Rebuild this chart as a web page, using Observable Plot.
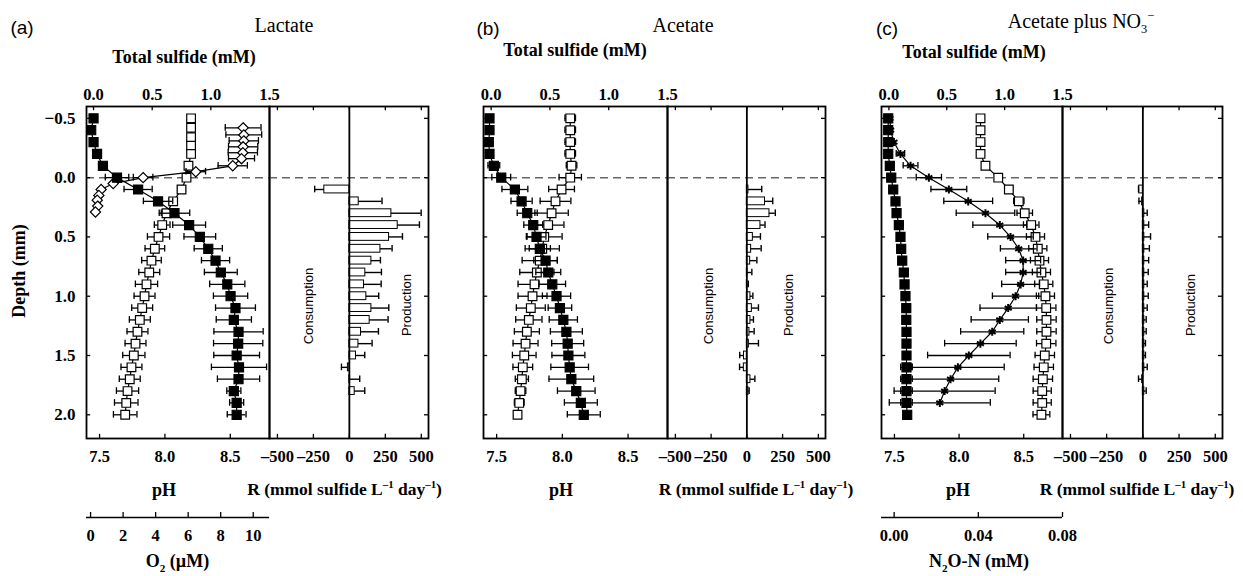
<!DOCTYPE html>
<html><head><meta charset="utf-8">
<script src="https://cdn.jsdelivr.net/npm/d3@7"></script>
<script src="https://cdn.jsdelivr.net/npm/@observablehq/plot@0.6"></script>
<style>
html,body{margin:0;padding:0;background:#fff;overflow:hidden}
#fig{position:relative;width:1243px;height:576px;}
#fig svg{position:absolute;left:0;top:0;background:transparent;overflow:visible}
.lab{position:absolute;transform:translate(-50%,-50%);white-space:nowrap;color:#000;line-height:1}
.serif{font-family:"Liberation Serif","Times New Roman",serif}
.b{font-weight:bold}
.sans{font-family:"Liberation Sans",Arial,sans-serif}
sup,sub{font-size:0.62em;line-height:0}
</style></head><body><div id="fig"></div><script>
// ---------- ticks ----------
const depthTicks = [-0.5, 0, 0.5, 1.0, 1.5, 2.0];
const phTicks = [7.5, 8.0, 8.5];
const sulfideTicks = [0, 0.5, 1.0, 1.5];
const rateTicks = [-500, -250, 0, 250, 500];
const o2Ticks = [0, 2, 4, 6, 8, 10];
const n2oTicks = [0, 0.04, 0.08];

// ---------- depths (mm) ----------
const depth26 = [-0.5,-0.4,-0.3,-0.2,-0.1,0,0.1,0.2,0.3,0.4,0.5,0.6,0.7,0.8,0.9,1.0,1.1,1.2,1.3,1.4,1.5,1.6,1.7,1.8,1.9,2.0];
const rateDepth = [0.1,0.2,0.3,0.4,0.5,0.6,0.7,0.8,0.9,1.0,1.1,1.2,1.3,1.4,1.5,1.6,1.7,1.8];

// ---------- (a) Lactate ----------
const aSulfide = [0.00,-0.02,0.00,0.03,0.08,0.20,0.38,0.55,0.69,0.815,0.906,0.978,1.04,1.085,1.14,1.168,1.21,1.196,1.236,1.233,1.22,1.24,1.236,1.196,1.22,1.22];
const aSulfideErr = [0,0,0,0,0,0.1,0.12,0.125,0.13,0.14,0.135,0.12,0.12,0.14,0.15,0.146,0.17,0.15,0.21,0.21,0.195,0.235,0.18,0.06,0.06,0.08];
const aPHDepth = [-0.5,-0.42,-0.34,-0.27,-0.2,-0.1,0,0.1,0.2,0.3,0.4,0.5,0.6,0.7,0.8,0.9,1.0,1.1,1.2,1.3,1.4,1.5,1.6,1.7,1.8,1.9,2.0];
const aPH = [8.20,8.20,8.20,8.20,8.20,8.18,8.165,8.127,8.063,8.012,7.979,7.951,7.923,7.897,7.880,7.859,7.844,7.826,7.808,7.790,7.775,7.762,7.744,7.731,7.714,7.704,7.696];
const aPHErr = [0,0,0,0,0,0,0.02,0.03,0.03,0.04,0.06,0.085,0.075,0.075,0.08,0.085,0.08,0.08,0.08,0.08,0.08,0.085,0.08,0.08,0.085,0.09,0.09];
const aO2Depth = [-0.42,-0.36,-0.31,-0.26,-0.21,-0.16,-0.10,-0.05,0,0.05,0.10,0.15,0.19,0.24,0.29];
const aO2 = [9.38,9.42,9.42,9.38,9.36,9.28,8.74,6.47,3.23,1.39,0.65,0.51,0.41,0.44,0.30];
const aO2Err = [1.1,1.1,0.9,0.9,0.9,0.8,0.9,0.6,0.6,0,0,0,0,0,0];
const aRate = [-174,65,292,336,276,216,153,111,102,118,153,141,81,63,46,-10,5,37];
const aRateErr = [67,162,207,151,93,81,63,112,119,86,121,128,121,95,61,45,67,70];

// ---------- (b) Acetate ----------
const bSulfide = [-0.014,-0.014,-0.02,-0.014,0.023,0.086,0.202,0.259,0.307,0.358,0.386,0.414,0.463,0.486,0.520,0.556,0.585,0.614,0.640,0.651,0.657,0.668,0.682,0.724,0.763,0.788];
const bSulfideErr = [0,0,0,0,0.05,0.08,0.11,0.09,0.085,0.08,0.08,0.09,0.1,0.106,0.113,0.12,0.10,0.12,0.136,0.136,0.14,0.16,0.19,0.16,0.14,0.14];
const bPH = [8.06,8.06,8.06,8.06,8.07,8.06,7.994,7.948,7.918,7.892,7.862,7.847,7.828,7.806,7.788,7.773,7.760,7.745,7.730,7.720,7.710,7.699,7.692,7.682,7.672,7.659];
const bPHErr = [0.04,0.04,0.04,0.04,0.04,0.085,0.098,0.117,0.127,0.12,0.136,0.13,0.134,0.13,0.125,0.11,0.11,0.1,0.095,0.095,0.09,0.075,0.05,0.04,0.037,0.02];
const bRate = [11,127,158,95,42,30,23,3,2,25,35,25,18,14,-20,-21,25,11];
const bRateErr = [93,54,41,32,53,70,47,32,8,17,46,21,33,67,30,30,31,5];

// ---------- (c) Acetate plus NO3- ----------
const cSulfide = [-0.006,-0.006,-0.006,-0.006,0.008,0.020,0.037,0.057,0.066,0.086,0.10,0.106,0.115,0.129,0.135,0.143,0.150,0.150,0.152,0.152,0.152,0.152,0.152,0.152,0.152,0.158];
const cSulfideErr = [0,0,0,0,0,0.02,0.02,0.02,0.02,0.02,0.02,0.02,0.02,0.02,0.02,0.02,0.02,0.02,0.02,0.02,0.02,0.05,0.05,0.05,0.05,0.02];
const cPH = [8.166,8.166,8.166,8.166,8.204,8.303,8.385,8.462,8.508,8.558,8.591,8.609,8.622,8.637,8.655,8.668,8.674,8.676,8.676,8.674,8.663,8.655,8.648,8.643,8.643,8.637];
const cPHErr = [0,0,0,0,0,0,0.03,0.04,0.06,0.06,0.07,0.07,0.07,0.07,0.07,0.07,0.075,0.075,0.075,0.075,0.075,0.075,0.075,0.07,0.07,0.065];
const cN2ODepth = [-0.5,-0.4,-0.3,-0.2,-0.1,0,0.1,0.2,0.3,0.4,0.5,0.6,0.7,0.8,0.9,1.0,1.1,1.2,1.3,1.4,1.5,1.6,1.7,1.8,1.9];
const cN2O = [-0.0020,-0.0017,-0.0001,0.0030,0.0078,0.0165,0.0260,0.0352,0.0434,0.0502,0.0553,0.0592,0.0613,0.0613,0.0601,0.0577,0.0542,0.0502,0.0466,0.0410,0.0355,0.0303,0.0268,0.0240,0.0217];
const cN2OErr = [0,0,0,0.002,0.0035,0.006,0.0085,0.0116,0.0139,0.0128,0.0108,0.0087,0.0083,0.0083,0.009,0.011,0.0134,0.0136,0.015,0.017,0.0196,0.022,0.0229,0.024,0.024];
const cRate = [-25,-5,10,10,10,10,10,10,10,10,10,10,10,10,10,10,-5,10];
const cRateErr = [5,22,20,30,43,35,30,27,20,27,20,13,13,8,8,20,25,13];

// ---------- layout ----------
const W = 1243, H = 576, TOP = 106, BOT = 438;
const DEPTH_DOMAIN = [-0.6, 2.2];
const PH_DOMAIN = [7.4, 8.8];
const RATE_DOMAIN = [-555, 550];
const CAP = 0.028;
const FRAME_W = 1.8;
const panels = [
  {p0: 86, p1: 269, r1: 428, sDom: [-0.06, 1.5]},
  {p0: 483, p1: 667, r1: 825, sDom: [-0.065, 1.5]},
  {p0: 881, p1: 1062, r1: 1222, sDom: [-0.064, 1.5]}
];

const rows = (d, v, e) => d.map((dd, i) => ({d: dd, v: v[i], e: e ? e[i] : 0}));
const fmt1 = d3.format(".1f");
const rateFmt = d => d < 0 ? "\u2013" + Math.abs(d) : String(d);
const TXT = {fontFamily: '"Liberation Serif","Times New Roman",serif', fontSize: 16.5, fontWeight: "bold", fill: "black"};

const fig = document.getElementById("fig");
const styleBase = {background: "transparent", overflow: "visible", fontFamily: '"Liberation Serif","Times New Roman",serif', fontSize: "16.5px", fontWeight: "bold", color: "black"};

function layer(x0, x1, domain, marks) {
  const svg = Plot.plot({
    width: W, height: H, marginLeft: x0, marginRight: W - x1, marginTop: TOP, marginBottom: H - BOT,
    x: {domain, axis: null}, y: {domain: DEPTH_DOMAIN, reverse: true, axis: null},
    style: styleBase, marks
  });
  fig.appendChild(svg);
}

function series(data, symbol, fill, r, sw = 1.2) {
  const eb = data.filter(p => p.e > 0);
  return [
    Plot.line(data, {x: "v", y: "d", stroke: "black", strokeWidth: 1.2}),
    Plot.ruleY(eb, {y: "d", x1: p => p.v - p.e, x2: p => p.v + p.e, stroke: "black", strokeWidth: 1.3}),
    Plot.ruleX(eb, {x: p => p.v - p.e, y1: p => p.d - CAP, y2: p => p.d + CAP, stroke: "black", strokeWidth: 1.3}),
    Plot.ruleX(eb, {x: p => p.v + p.e, y1: p => p.d - CAP, y2: p => p.d + CAP, stroke: "black", strokeWidth: 1.3}),
    Plot.dot(data, {x: "v", y: "d", symbol, r, fill, stroke: "black", strokeWidth: sw})
  ];
}

function rateMarks(data) {
  const end = p => p.v + (p.v < 0 ? -1 : 1) * p.e;
  return [
    Plot.ruleY([0], {stroke: "#666", strokeWidth: 1.5, strokeDasharray: "8,5"}),
    Plot.rectX(data, {x1: () => 0, x2: "v", y1: p => p.d - 0.033, y2: p => p.d + 0.033, fill: "white", stroke: "black", strokeWidth: 1}),
    Plot.ruleY(data, {y: "d", x1: "v", x2: end, stroke: "black", strokeWidth: 1.4}),
    Plot.ruleX(data, {x: end, y1: p => p.d - CAP, y2: p => p.d + CAP, stroke: "black", strokeWidth: 1.4}),
    Plot.ruleX([0], {stroke: "black", strokeWidth: FRAME_W}),
    Plot.frame({stroke: "black", strokeWidth: FRAME_W}),
    Plot.ruleX(rateTicks, {y1: () => DEPTH_DOMAIN[0], y2: () => DEPTH_DOMAIN[0] + 0.035, stroke: "black", strokeWidth: 1.3}),
    Plot.ruleX(rateTicks, {y1: () => DEPTH_DOMAIN[1], y2: () => DEPTH_DOMAIN[1] - 0.035, stroke: "black", strokeWidth: 1.3}),
    Plot.ruleY(depthTicks, {x1: () => RATE_DOMAIN[1], x2: () => RATE_DOMAIN[1] - 28, stroke: "black", strokeWidth: 1.3}),
    Plot.axisX({anchor: "bottom", ticks: rateTicks, tickSize: 0, tickPadding: 12, tickFormat: rateFmt, label: null, ...TXT})
  ];
}

function phBase(withY) {
  return [
    Plot.ruleY([0], {stroke: "#666", strokeWidth: 1.5, strokeDasharray: "8,5"}),
    Plot.frame({stroke: "black", strokeWidth: FRAME_W}),
    Plot.ruleY(depthTicks, {x1: () => PH_DOMAIN[0], x2: () => PH_DOMAIN[0] + 0.032, stroke: "black", strokeWidth: 1.3}),
    Plot.ruleX(phTicks, {y1: () => DEPTH_DOMAIN[1], y2: () => DEPTH_DOMAIN[1] - 0.035, stroke: "black", strokeWidth: 1.3}),
    Plot.axisX({anchor: "bottom", ticks: phTicks, tickSize: 0, tickPadding: 12, tickFormat: fmt1, label: null, ...TXT}),
    withY ? Plot.axisY({anchor: "left", ticks: depthTicks, tickSize: 0, tickPadding: 11, tickFormat: fmt1, label: null, ...TXT, fontSize: 17}) : null
  ];
}

function sulfideAxis() {
  return [
    Plot.ruleX(sulfideTicks.slice(0, 3), {y1: () => DEPTH_DOMAIN[0], y2: () => DEPTH_DOMAIN[0] + 0.035, stroke: "black", strokeWidth: 1.3}),
    Plot.axisX({anchor: "top", ticks: sulfideTicks, tickSize: 0, tickPadding: 7, tickFormat: fmt1, label: null, ...TXT})
  ];
}

function extraAxis(x0, x1, domain, ticks, fmt) {
  const svg = Plot.plot({
    width: W, height: H, marginLeft: x0, marginRight: W - x1, marginTop: 512, marginBottom: H - 517,
    x: {domain, axis: null}, y: {domain: [0, 1], axis: null},
    style: styleBase,
    marks: [
      Plot.ruleY([0], {stroke: "black", strokeWidth: 1.6}),
      Plot.ruleX(ticks, {stroke: "black", strokeWidth: 1.3}),
      Plot.axisX({anchor: "bottom", ticks, tickSize: 0, tickPadding: 12, tickFormat: fmt, label: null, ...TXT})
    ]
  });
  fig.appendChild(svg);
}

// ---------- panel (a) ----------
{
  const P = panels[0];
  layer(P.p0, P.p1, PH_DOMAIN, [...phBase(true), ...series(rows(aPHDepth, aPH, aPHErr), "square", "white", 4.9)]);
  layer(P.p0, P.p1, [-0.25, 11], series(rows(aO2Depth, aO2, aO2Err), "diamond2", "white", 4.6));
  layer(P.p0, P.p1, P.sDom, [...sulfideAxis(), ...series(rows(depth26, aSulfide, aSulfideErr), "square", "black", 5.1)]);
  layer(P.p1, P.r1, RATE_DOMAIN, rateMarks(rows(rateDepth, aRate, aRateErr)));
  extraAxis(P.p0, P.p1, [-0.25, 11], o2Ticks, d3.format("d"));
}
// ---------- panel (b) ----------
{
  const P = panels[1];
  layer(P.p0, P.p1, PH_DOMAIN, [...phBase(false), ...series(rows(depth26, bPH, bPHErr), "square", "white", 4.9)]);
  layer(P.p0, P.p1, P.sDom, [...sulfideAxis(), ...series(rows(depth26, bSulfide, bSulfideErr), "square", "black", 5.1)]);
  layer(P.p1, P.r1, RATE_DOMAIN, rateMarks(rows(rateDepth, bRate, bRateErr)));
}
// ---------- panel (c) ----------
{
  const P = panels[2];
  layer(P.p0, P.p1, PH_DOMAIN, [...phBase(false), ...series(rows(depth26, cPH, cPHErr), "square", "white", 4.9)]);
  layer(P.p0, P.p1, [-0.006, 0.08], series(rows(cN2ODepth, cN2O, cN2OErr), "asterisk", "none", 3.8, 2));
  layer(P.p0, P.p1, P.sDom, [...sulfideAxis(), ...series(rows(depth26, cSulfide, cSulfideErr), "square", "black", 5.1)]);
  layer(P.p1, P.r1, RATE_DOMAIN, rateMarks(rows(rateDepth, cRate, cRateErr)));
  extraAxis(P.p0, P.p1, [-0.006, 0.08], n2oTicks, d3.format(".2f"));
}

// ---------- text labels ----------
function label(html, x, y, cls, size, rot) {
  const el = document.createElement("div");
  el.className = "lab " + cls;
  el.style.left = x + "px"; el.style.top = y + "px"; el.style.fontSize = size + "px";
  if (rot) el.style.transform = "translate(-50%,-50%) rotate(" + rot + "deg)";
  el.innerHTML = html;
  fig.appendChild(el);
}
label("(a)", 22, 27, "sans", 19);
label("(b)", 488, 28, "sans", 19);
label("(c)", 887, 28, "sans", 19);
label("Lactate", 284, 25, "serif", 20);
label("Acetate", 683, 25, "serif", 20);
label("Acetate plus NO<sub>3</sub><sup>\u2212</sup>", 1081, 21, "serif", 20);
label("Total sulfide (mM)", 184, 57, "serif b", 18);
label("Total sulfide (mM)", 575, 50, "serif b", 18);
label("Total sulfide (mM)", 974, 52, "serif b", 18);
label("Depth (mm)", 19, 271, "serif b", 18, -90);
const rLab = "R (mmol sulfide L<sup>\u20131</sup> day<sup>\u20131</sup>)";
[[164, 344.5], [561, 756], [958, 1137]].forEach(([px, rx]) => {
  label("pH", px, 490, "serif b", 18);
  label(rLab, rx, 490, "serif b", 17.5);
});
label("O<sub>2</sub> (\u00b5M)", 177.5, 561, "serif b", 18);
label("N<sub>2</sub>O-N (mM)", 979, 561, "serif b", 18);
[[308, 406], [707.5, 787.5], [1107.5, 1189.7]].forEach(([cx, px]) => {
  label("Consumption", cx, 306, "sans", 13, -90);
  label("Production", px, 305, "sans", 13, -90);
});
</script></body></html>
